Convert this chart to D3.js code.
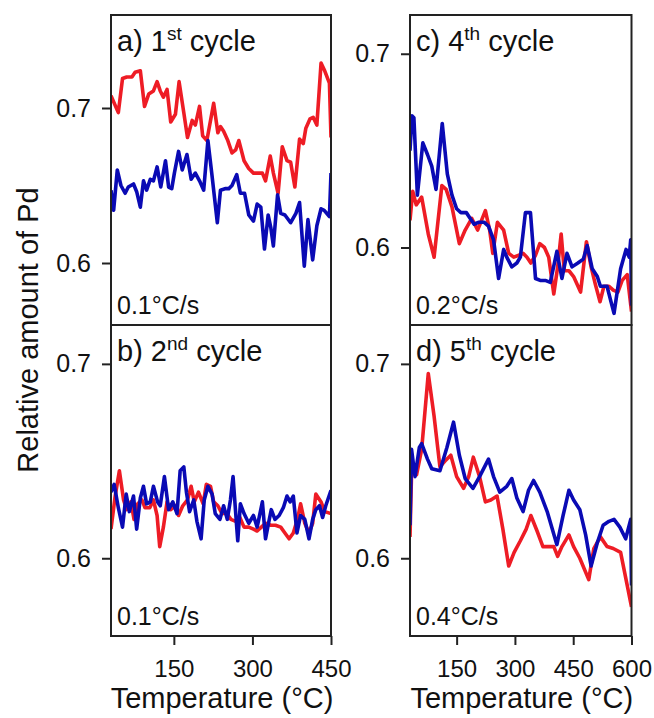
<!DOCTYPE html>
<html><head><meta charset="utf-8">
<script src="https://cdn.jsdelivr.net/npm/d3@7"></script>
<style>
body{margin:0;background:#fff}
svg{display:block}
text{font-family:"Liberation Sans",Arial,Helvetica,sans-serif;fill:#111}
</style>
</head><body>
<svg id="chart" width="654" height="718"></svg>
<script>
// ---- data (temperature in °C, relative amount of Pd) ----
const aRedT = [30,44,52,60,70,76,86,94,102,111,118,124,130,137,144,153,160,169,176,185,191,199,205,213,226,234,239,245,253,261,268,274,284,293,302,311,319,325,334,340,349,357,366,373,381,390,397,402,410,416,423,431,438,447,450];
const aRedV = [0.708,0.697,0.719,0.720,0.720,0.723,0.724,0.701,0.709,0.711,0.717,0.711,0.707,0.712,0.691,0.696,0.717,0.697,0.681,0.692,0.689,0.701,0.682,0.679,0.703,0.684,0.688,0.685,0.679,0.671,0.673,0.679,0.666,0.661,0.658,0.658,0.658,0.653,0.669,0.658,0.645,0.675,0.666,0.665,0.649,0.680,0.677,0.687,0.693,0.694,0.689,0.729,0.724,0.716,0.681];
const aBlueT = [30,35,42,49,57,63,73,79,86,92,98,105,111,118,125,134,140,146,151,159,166,175,183,191,199,207,215,223,233,239,249,255,261,270,277,285,293,302,309,316,323,330,335,340,348,354,362,373,383,390,399,406,415,423,431,437,447,450];
const aBlueV = [0.647,0.634,0.660,0.650,0.645,0.649,0.651,0.646,0.636,0.653,0.647,0.654,0.653,0.662,0.649,0.666,0.649,0.648,0.658,0.672,0.660,0.670,0.654,0.658,0.653,0.647,0.679,0.656,0.626,0.647,0.648,0.648,0.650,0.657,0.645,0.645,0.631,0.627,0.638,0.636,0.609,0.631,0.623,0.611,0.644,0.632,0.631,0.626,0.632,0.639,0.598,0.628,0.602,0.624,0.635,0.634,0.630,0.658];

const bRedT = [30,38,46,54,60,68,74,81,89,95,104,111,118,123,130,137,144,153,159,167,176,183,189,197,206,212,220,226,234,242,251,259,268,276,284,293,302,309,317,325,335,344,354,362,370,378,386,392,400,408,415,421,431,438,450];
const bRedV = [0.615,0.632,0.645,0.630,0.625,0.629,0.620,0.628,0.630,0.626,0.626,0.630,0.622,0.606,0.616,0.629,0.625,0.627,0.622,0.627,0.630,0.637,0.629,0.634,0.628,0.638,0.637,0.629,0.627,0.623,0.623,0.620,0.619,0.621,0.616,0.616,0.615,0.614,0.616,0.618,0.617,0.617,0.616,0.613,0.610,0.613,0.620,0.628,0.618,0.613,0.618,0.633,0.629,0.624,0.623];
const bBlueT = [30,36,44,52,59,65,73,79,86,92,98,105,111,119,124,132,140,148,156,162,169,174,180,188,194,202,208,215,223,229,238,245,252,258,263,270,272,277,284,293,302,309,319,325,330,336,343,351,359,366,372,378,385,392,400,408,415,421,428,434,440,450];
const bBlueV = [0.634,0.638,0.626,0.616,0.633,0.624,0.632,0.615,0.631,0.637,0.628,0.629,0.637,0.629,0.627,0.642,0.625,0.629,0.623,0.645,0.647,0.634,0.624,0.630,0.619,0.610,0.630,0.637,0.633,0.623,0.620,0.627,0.620,0.630,0.642,0.616,0.609,0.628,0.623,0.618,0.622,0.616,0.629,0.610,0.617,0.625,0.620,0.622,0.626,0.632,0.629,0.632,0.613,0.622,0.620,0.610,0.620,0.625,0.627,0.621,0.627,0.635];

const cRedT = [30,37,46,60,77,92,112,123,138,157,172,189,204,212,224,235,243,255,271,284,297,310,321,331,341,353,364,376,387,400,410,419,427,439,451,469,484,496,507,519,529,542,553,565,576,589,600];
const cRedV = [0.614,0.629,0.622,0.626,0.607,0.595,0.632,0.630,0.621,0.602,0.609,0.615,0.609,0.613,0.619,0.609,0.597,0.613,0.609,0.597,0.595,0.596,0.597,0.595,0.592,0.596,0.602,0.600,0.595,0.576,0.590,0.607,0.588,0.588,0.585,0.577,0.603,0.590,0.581,0.572,0.580,0.580,0.578,0.577,0.583,0.586,0.567];
const cBlueT = [30,35,40,49,63,75,86,97,113,126,138,150,161,175,185,195,206,221,232,245,258,271,279,292,305,314,327,340,353,365,378,391,408,421,434,447,462,476,486,499,512,520,537,555,572,586,594,598,600];
const cBlueV = [0.650,0.668,0.667,0.627,0.654,0.648,0.642,0.630,0.664,0.638,0.627,0.620,0.618,0.618,0.615,0.612,0.613,0.613,0.611,0.604,0.584,0.599,0.595,0.590,0.592,0.595,0.618,0.618,0.584,0.583,0.583,0.582,0.598,0.584,0.597,0.590,0.592,0.594,0.601,0.589,0.585,0.580,0.580,0.566,0.589,0.599,0.595,0.604,0.570];

const dRedT = [30,34,47,60,77,92,107,120,135,150,168,181,193,209,224,238,254,269,284,298,314,329,341,357,372,387,400,410,421,439,451,467,490,503,520,537,553,572,589,600];
const dRedV = [0.611,0.644,0.643,0.656,0.695,0.673,0.647,0.650,0.653,0.642,0.636,0.642,0.652,0.642,0.629,0.630,0.632,0.615,0.596,0.603,0.609,0.615,0.622,0.614,0.606,0.606,0.606,0.601,0.606,0.612,0.606,0.600,0.589,0.605,0.611,0.606,0.605,0.603,0.586,0.575];
const dBlueT = [30,34,43,54,60,75,86,107,125,142,157,172,192,209,232,245,261,279,292,305,321,335,348,364,383,408,424,439,451,467,482,496,512,527,542,555,570,585,598,600];
const dBlueV = [0.617,0.656,0.642,0.657,0.659,0.651,0.646,0.645,0.657,0.670,0.653,0.641,0.636,0.642,0.651,0.642,0.634,0.637,0.641,0.631,0.624,0.635,0.640,0.634,0.624,0.607,0.622,0.635,0.630,0.625,0.612,0.596,0.608,0.617,0.619,0.620,0.616,0.610,0.620,0.586];

// ---- labels / ticks ----
const panelLetters = ["a)","b)","c)","d)"];
const cycleNums = ["1","2","4","5"];
const cycleSups = ["st","nd","th","th"];
const rates = ["0.1°C/s","0.1°C/s","0.2°C/s","0.4°C/s"];
const yTicks = [0.6, 0.7];
const xTicksLeft = [150, 300, 450];
const xTicksRight = [150, 300, 450, 600];
const xTitle = "Temperature (°C)";
const yTitle = "Relative amount of Pd";

const RED = "#ee1c25", BLUE = "#0a0ab4";

const svg = d3.select("#chart");

const zip = (T, V) => T.map((t, i) => ({t, v: V[i]}));

const panels = [
  {x0:111, x1:331, y0:15,  y1:325, xd:[30,450], yd:[0.56,0.76], xt:null,        red:zip(aRedT,aRedV), blue:zip(aBlueT,aBlueV)},
  {x0:111, x1:331, y0:325, y1:636, xd:[30,450], yd:[0.56,0.72], xt:xTicksLeft,  red:zip(bRedT,bRedV), blue:zip(bBlueT,bBlueV)},
  {x0:410, x1:631.5, y0:15,  y1:325, xd:[30,600], yd:[0.56,0.72], xt:null,        red:zip(cRedT,cRedV), blue:zip(cBlueT,cBlueV)},
  {x0:410, x1:631.5, y0:325, y1:636, xd:[30,600], yd:[0.56,0.72], xt:xTicksRight, red:zip(dRedT,dRedV), blue:zip(dBlueT,dBlueV)}
];

panels.forEach((p, i) => {
  const x = d3.scaleLinear().domain(p.xd).range([p.x0, p.x1]);
  const y = d3.scaleLinear().domain(p.yd).range([p.y1, p.y0]);
  const g = svg.append("g");

  const cid = "clip" + i;
  svg.append("clipPath").attr("id", cid).append("rect")
    .attr("x", p.x0).attr("y", p.y0).attr("width", p.x1 - p.x0).attr("height", p.y1 - p.y0);

  const line = d3.line().x(d => x(d.t)).y(d => y(d.v));
  const lg = g.append("g").attr("clip-path", `url(#${cid})`);
  lg.append("path").datum(p.red).attr("d", line)
    .attr("fill", "none").attr("stroke", RED).attr("stroke-width", 3.6).attr("stroke-linejoin", "round");
  lg.append("path").datum(p.blue).attr("d", line)
    .attr("fill", "none").attr("stroke", BLUE).attr("stroke-width", 3.6).attr("stroke-linejoin", "round");

  // frame
  g.append("rect").attr("x", p.x0).attr("y", p.y0).attr("width", p.x1 - p.x0).attr("height", p.y1 - p.y0)
    .attr("fill", "none").attr("stroke", "#222").attr("stroke-width", 2);

  // y axis
  const ya = g.append("g").attr("transform", `translate(${p.x0},0)`)
    .call(d3.axisLeft(y).tickValues(yTicks).tickSize(9).tickPadding(11).tickFormat(d3.format(".1f")));
  ya.select(".domain").remove();
  ya.selectAll("line").attr("stroke", "#222").attr("stroke-width", 2);
  ya.selectAll("text").attr("font-size", 25).attr("font-family", null).attr("fill", "#111");

  // x axis
  if (p.xt) {
    const xa = g.append("g").attr("transform", `translate(0,${p.y1})`)
      .call(d3.axisBottom(x).tickValues(p.xt).tickSize(9).tickPadding(15).tickFormat(d3.format("d")));
    xa.select(".domain").remove();
    xa.selectAll("line").attr("stroke", "#222").attr("stroke-width", 2);
    xa.selectAll("text").attr("font-size", 24).attr("font-family", null).attr("fill", "#111");
    g.append("text").attr("x", (p.x0 + p.x1) / 2 + 1).attr("y", 708)
      .attr("text-anchor", "middle").attr("font-size", 29).text(xTitle);
  }

  // title
  const tt = g.append("text").attr("x", p.x0 + 6).attr("y", p.y0 + 36)
    .attr("font-size", 29).style("white-space", "pre");
  tt.append("tspan").text(panelLetters[i] + " " + cycleNums[i]);
  tt.append("tspan").attr("font-size", 19).attr("dy", -11).text(cycleSups[i]);
  tt.append("tspan").attr("dy", 11).text(" cycle");

  // rate
  g.append("text").attr("x", p.x0 + 6).attr("y", p.y1 - 11)
    .attr("font-size", 25).text(rates[i]);
});

// y title
svg.append("text").attr("transform", "translate(38,330) rotate(-90)")
  .attr("text-anchor", "middle").attr("font-size", 29).text(yTitle);
</script>
</body></html>
